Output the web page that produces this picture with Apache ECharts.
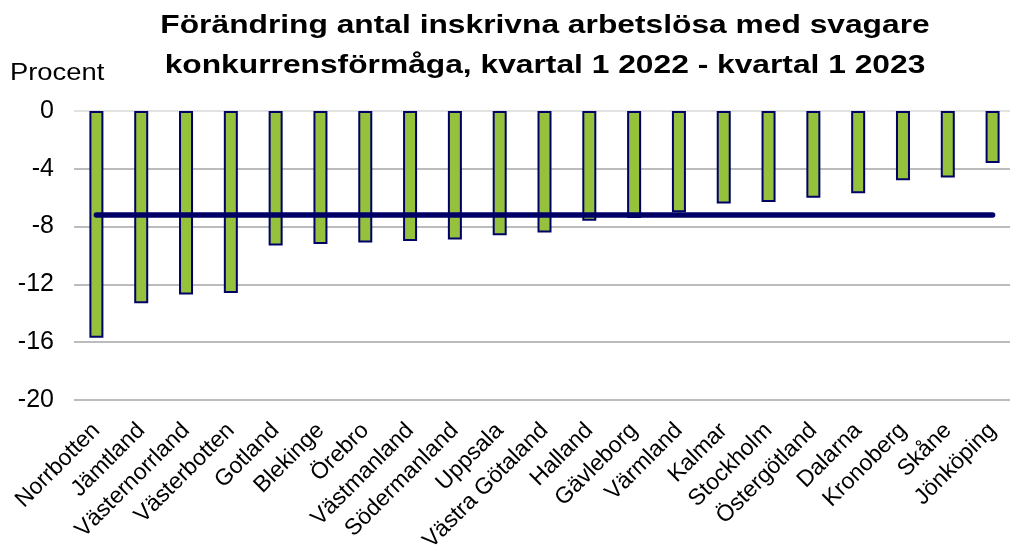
<!DOCTYPE html>
<html>
<head>
<meta charset="utf-8">
<script src="https://cdn.jsdelivr.net/npm/echarts@6/dist/echarts.min.js"></script>
<style>
  html, body { margin: 0; padding: 0; background: #fff; }
  #chart { width: 1010px; height: 550px; }
</style>
</head>
<body>
<div id="chart"></div>
<script>
const regions = ['Norrbotten', 'Jämtland', 'Västernorrland', 'Västerbotten', 'Gotland', 'Blekinge', 'Örebro',
  'Västmanland', 'Södermanland', 'Uppsala', 'Västra Götaland', 'Halland', 'Gävleborg', 'Värmland',
  'Kalmar', 'Stockholm', 'Östergötland', 'Dalarna', 'Kronoberg', 'Skåne', 'Jönköping']
const change = [-15.7, -13.3, -12.7, -12.6, -9.3, -9.2, -9.1, -9.0, -8.9, -8.6, -8.4, -7.6, -7.4, -7.0,
  -6.4, -6.3, -6.0, -5.7, -4.8, -4.6, -3.6]
const riket = regions.map(() => -7.2)
const titleLines = ['Förändring antal inskrivna arbetslösa med svagare',
  'konkurrensförmåga, kvartal 1 2022 - kvartal 1 2023']

const font = '"Liberation Sans", Arial, sans-serif'
const chart = echarts.init(document.getElementById('chart'), null, { renderer: 'canvas' })

// the reference text is drawn a bit wide, so stretch title texts horizontally
const titleGraphics = titleLines.map((line, i) => ({
  type: 'text',
  x: 545,
  y: 26 + i * 40,
  scaleX: 1.27,
  style: {
    text: line, fontFamily: font, fontSize: 25, fontWeight: 'bold', fill: '#000',
    align: 'center', verticalAlign: 'middle'
  }
}))

chart.setOption({
  animation: false,
  textStyle: { fontFamily: font, color: '#000' },
  graphic: [
    ...titleGraphics,
    {
      type: 'text',
      x: 10,
      y: 73,
      scaleX: 1.14,
      style: { text: 'Procent', fontFamily: font, fontSize: 24, fill: '#000', align: 'left', verticalAlign: 'middle' }
    }
  ],
  grid: { left: 74, top: 111, width: 941, height: 289, containLabel: false, outerBoundsMode: 'none' },
  xAxis: {
    type: 'category',
    data: regions,
    position: 'bottom',
    axisLine: { show: false, onZero: false },
    axisTick: { show: false },
    axisLabel: { rotate: 45, fontSize: 23, color: '#000', interval: 0, margin: 27, fontFamily: font }
  },
  yAxis: {
    type: 'value',
    min: -20,
    max: 0,
    interval: 4,
    axisLine: { show: false },
    axisTick: { show: false },
    axisLabel: { fontSize: 25, color: '#000', margin: 20, fontFamily: font },
    splitLine: {
      lineStyle: { width: 1.5, color: ['#a6a6a6', '#a6a6a6', '#a6a6a6', '#a6a6a6', '#a6a6a6', '#d9d9d9'] }
    }
  },
  series: [
    {
      name: 'Län',
      type: 'bar',
      data: change,
      barWidth: 14,
      itemStyle: { color: '#95c13d', borderColor: '#000066', borderWidth: 2 }
    },
    {
      name: 'Riket',
      type: 'line',
      data: riket,
      symbol: 'none',
      z: 5,
      lineStyle: { color: '#000066', width: 5.5, cap: 'round' }
    }
  ]
})
</script>
</body>
</html>
